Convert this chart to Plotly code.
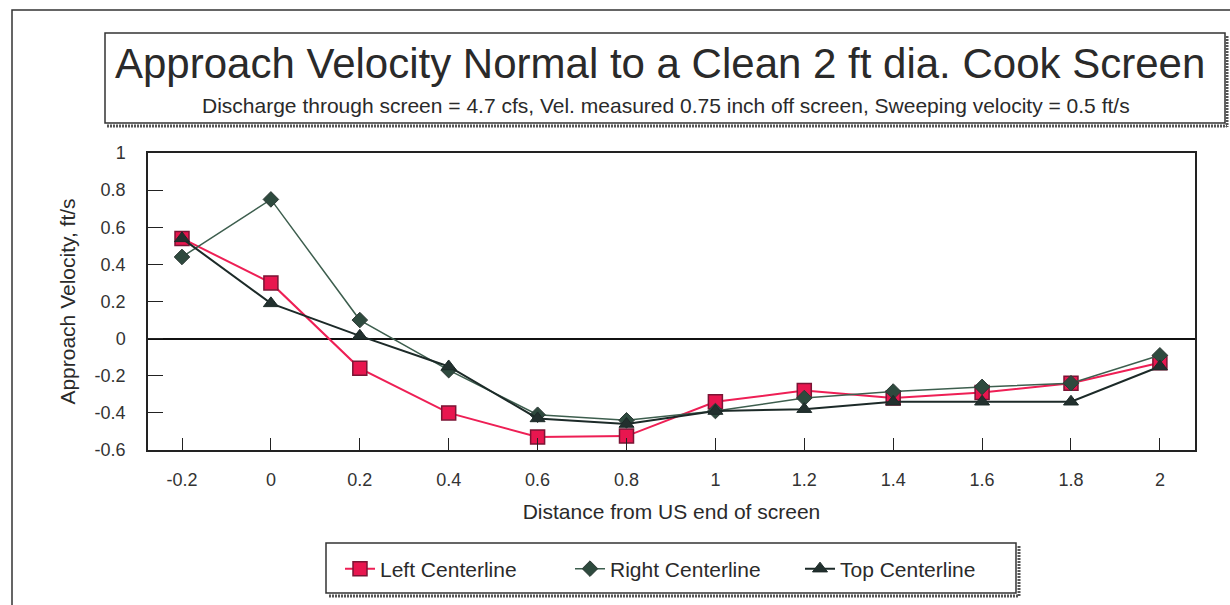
import plotly.graph_objects as go

# ---- data ----
distance = [-0.2, 0, 0.2, 0.4, 0.6, 0.8, 1.0, 1.2, 1.4, 1.6, 1.8, 2.0]
x_tick_labels = ["-0.2", "0", "0.2", "0.4", "0.6", "0.8", "1", "1.2", "1.4", "1.6", "1.8", "2"]
left_centerline = [0.54, 0.30, -0.16, -0.40, -0.53, -0.525, -0.34, -0.28, -0.32, -0.29, -0.24, -0.13]
right_centerline = [0.44, 0.75, 0.10, -0.17, -0.41, -0.44, -0.39, -0.32, -0.285, -0.26, -0.24, -0.09]
top_centerline = [0.54, 0.19, 0.015, -0.15, -0.43, -0.46, -0.39, -0.38, -0.34, -0.34, -0.34, -0.15]
y_tick_vals = [-0.6, -0.4, -0.2, 0, 0.2, 0.4, 0.6, 0.8, 1]
y_tick_labels = ["-0.6", "-0.4", "-0.2", "0", "0.2", "0.4", "0.6", "0.8", "1"]

W, H = 1230, 605
L, R, T, B = 148, 1195, 153, 450


def xp(px):
    return (px - L) / (R - L)


def yp(py):
    return (B - py) / (B - T)


FONT = "Liberation Sans, Arial, Helvetica, sans-serif"
TXT = "#2a2a2a"

fig = go.Figure()
fig.add_trace(go.Scatter(
    x=distance, y=left_centerline, name="Left Centerline", mode="lines+markers",
    line=dict(color="#ee1f55", width=2),
    marker=dict(symbol="square", size=14, color="#e8164f", line=dict(color="#7a1535", width=1.5)),
))
fig.add_trace(go.Scatter(
    x=distance, y=right_centerline, name="Right Centerline", mode="lines+markers",
    line=dict(color="#3d5e4e", width=1.5),
    marker=dict(symbol="diamond", size=12, color="#2e4a3e", line=dict(color="#2e3a36", width=1)),
))
fig.add_trace(go.Scatter(
    x=distance, y=top_centerline, name="Top Centerline", mode="lines+markers",
    line=dict(color="#1c2a28", width=2),
    marker=dict(symbol="triangle-up", size=13, color="#22302e", line=dict(color="#1c2a28", width=1)),
))

shapes = []
# outer chart border
shapes.append(dict(type="rect", xref="paper", yref="paper", x0=xp(12), x1=xp(1245), y0=yp(10), y1=yp(620),
                   line=dict(color="#333", width=1.5), layer="below"))
# title box + hatched shadow
shapes.append(dict(type="rect", xref="paper", yref="paper", x0=xp(105), x1=xp(1225), y0=yp(33), y1=yp(123),
                   line=dict(color="#333", width=1.5), fillcolor="white", layer="below"))
shapes.append(dict(type="line", xref="paper", yref="paper", x0=xp(107), x1=xp(1227), y0=yp(126), y1=yp(126),
                   line=dict(color="#555", width=3, dash="2px,1px")))
shapes.append(dict(type="line", xref="paper", yref="paper", x0=xp(1227), x1=xp(1227), y0=yp(36), y1=yp(127),
                   line=dict(color="#555", width=3, dash="2px,1px")))
# legend box + hatched shadow
shapes.append(dict(type="rect", xref="paper", yref="paper", x0=xp(326), x1=xp(1016), y0=yp(543), y1=yp(593),
                   line=dict(color="#333", width=1.5), fillcolor="white", layer="below"))
shapes.append(dict(type="line", xref="paper", yref="paper", x0=xp(329), x1=xp(1019), y0=yp(596), y1=yp(596),
                   line=dict(color="#555", width=3, dash="2px,1px")))
shapes.append(dict(type="line", xref="paper", yref="paper", x0=xp(1019), x1=xp(1019), y0=yp(546), y1=yp(597),
                   line=dict(color="#555", width=3, dash="2px,1px")))

annotations = [
    dict(text="Approach Velocity Normal to a Clean 2 ft dia. Cook Screen", xref="paper", yref="paper",
         x=xp(660), y=yp(63), showarrow=False, xanchor="center", yanchor="middle",
         font=dict(family=FONT, size=42, color=TXT)),
    dict(text="Discharge through screen = 4.7 cfs, Vel. measured 0.75 inch off screen, Sweeping velocity = 0.5 ft/s",
         xref="paper", yref="paper", x=xp(666), y=yp(106), showarrow=False, xanchor="center", yanchor="middle",
         font=dict(family=FONT, size=21, color=TXT)),
]

fig.update_layout(
    width=W, height=H,
    margin=dict(l=L, r=W - R, t=T, b=H - B, autoexpand=False),
    paper_bgcolor="white", plot_bgcolor="white",
    font=dict(family=FONT, color=TXT),
    shapes=shapes, annotations=annotations,
    showlegend=True,
    legend=dict(orientation="h", x=xp(340), y=yp(569), xanchor="left", yanchor="middle",
                bgcolor="rgba(0,0,0,0)", borderwidth=0, font=dict(family=FONT, size=21, color=TXT),
                itemwidth=30, tracegroupgap=0, entrywidth=185, entrywidthmode="pixels"),
)
fig.update_xaxes(
    range=[-0.2765, 2.079], tickvals=distance, ticktext=x_tick_labels,
    ticks="inside", ticklen=12, tickcolor="#222", tickwidth=1.2,
    showline=True, mirror=True, linecolor="#222", linewidth=1.5,
    showgrid=False, zeroline=False,
    tickfont=dict(family=FONT, size=18, color="#333"), ticklabelstandoff=13,
    title=dict(text="Distance from US end of screen", font=dict(family=FONT, size=21, color=TXT), standoff=15),
)
fig.update_yaxes(
    range=[-0.6, 1], tickvals=y_tick_vals, ticktext=y_tick_labels,
    ticks="inside", ticklen=15, tickcolor="#222", tickwidth=1.2,
    showline=True, mirror=True, linecolor="#222", linewidth=1.5,
    showgrid=False, zeroline=True, zerolinecolor="#111", zerolinewidth=1.5,
    tickfont=dict(family=FONT, size=18, color="#333"), ticklabelstandoff=17,
    title=dict(text="Approach Velocity, ft/s", font=dict(family=FONT, size=21, color=TXT), standoff=13),
)

fig.write_html("out.html", config={"displayModeBar": False},
               post_script="document.body.style.margin='0px';")
